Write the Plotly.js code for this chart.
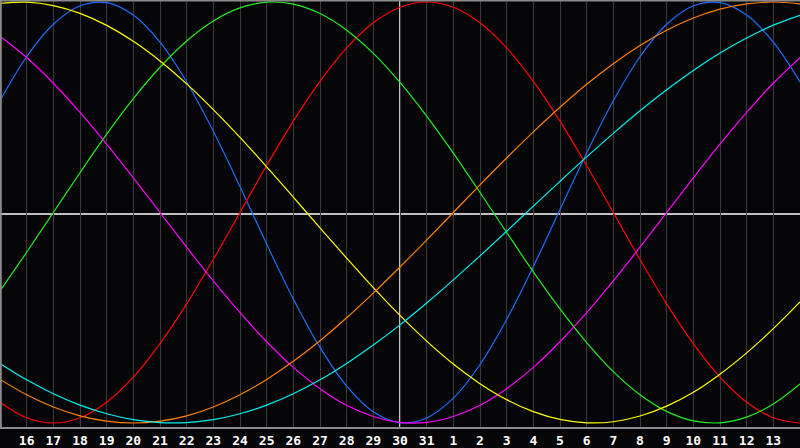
<!DOCTYPE html>
<html>
<head>
<meta charset="utf-8">
<script src="https://cdn.plot.ly/plotly-3.0.1.min.js"></script>
<style>
html,body{margin:0;padding:0;background:#060608;}
#chart{width:800px;height:448px;}
</style>
</head>
<body>
<div id="chart"></div>
<script>
// Day labels along the x axis (15th of one month to 14th of the next)
const days = ['15','16','17','18','19','20','21','22','23','24','25','26','27','28','29','30','31',
              '1','2','3','4','5','6','7','8','9','10','11','12','13','14'];

// Cycle values, one per day (-1 .. 1)
const physical23 = [0.531,0.740,0.894,0.982,0.997,0.938,0.809,0.620,0.386,0.123,-0.150,-0.411,-0.641,-0.825,-0.947,-0.999,
                    -0.976,-0.882,-0.722,-0.508,-0.257,0.014,0.283,0.531,0.740,0.894,0.982,0.997,0.938,0.809,0.620];
const emotional28 = [-0.901,-0.975,-1,-0.975,-0.901,-0.782,-0.623,-0.434,-0.223,0,0.223,0.434,0.623,0.782,0.901,0.975,
                     1,0.975,0.901,0.782,0.623,0.434,0.223,0,-0.223,-0.434,-0.623,-0.782,-0.901,-0.975,-1];
const intellectual33 = [-0.372,-0.189,0,0.189,0.372,0.541,0.690,0.815,0.910,0.972,0.999,0.990,0.945,0.866,0.756,0.618,
                        0.458,0.282,0.095,-0.095,-0.282,-0.458,-0.618,-0.756,-0.866,-0.945,-0.990,-0.999,-0.972,-0.910,-0.815];
const intuition38 = [0.837,0.736,0.614,0.476,0.325,0.165,0,-0.165,-0.325,-0.476,-0.614,-0.736,-0.837,-0.916,-0.969,-0.997,
                     -0.997,-0.969,-0.916,-0.837,-0.736,-0.614,-0.476,-0.325,-0.165,0,0.165,0.325,0.476,0.614,0.736];
const aesthetic43 = [0.994,0.999,0.983,0.946,0.889,0.813,0.720,0.611,0.489,0.357,0.217,0.073,-0.073,-0.217,-0.357,-0.489,
                     -0.611,-0.720,-0.813,-0.889,-0.946,-0.983,-0.999,-0.994,-0.967,-0.920,-0.854,-0.768,-0.667,-0.552,-0.425];
const awareness48 = [-0.793,-0.866,-0.924,-0.966,-0.991,-1,-0.991,-0.966,-0.924,-0.866,-0.793,-0.707,-0.609,-0.5,-0.383,-0.259,
                     -0.131,0,0.131,0.259,0.383,0.5,0.609,0.707,0.793,0.866,0.924,0.966,0.991,1,0.991];
const spiritual53 = [-0.717,-0.795,-0.861,-0.915,-0.956,-0.984,-0.998,-0.998,-0.984,-0.956,-0.915,-0.861,-0.795,-0.717,-0.630,-0.534,
                     -0.430,-0.320,-0.206,-0.089,0.030,0.148,0.264,0.376,0.483,0.583,0.675,0.758,0.829,0.890,0.937];

const todayLabel = '30';

const xIdx = days.map((d, i) => i);
const tickIdx = xIdx.slice(1, days.length - 1);
const tickTxt = days.slice(1, days.length - 1);
const todayIdx = days.indexOf(todayLabel);

const series = [
  {name: 'Physical', y: physical23, color: '#1e6eff'},
  {name: 'Emotional', y: emotional28, color: '#ff0000'},
  {name: 'Intellectual', y: intellectual33, color: '#22ee22'},
  {name: 'Intuition', y: intuition38, color: '#ff00ff'},
  {name: 'Aesthetic', y: aesthetic43, color: '#ffff00'},
  {name: 'Awareness', y: awareness48, color: '#ff8000'},
  {name: 'Spiritual', y: spiritual53, color: '#00f0f0'}
];

const traces = series.map(s => ({
  type: 'scatter', mode: 'lines', name: s.name,
  x: xIdx, y: s.y,
  line: {color: s.color, width: 1.2, shape: 'spline', smoothing: 1},
  hoverinfo: 'skip'
}));

const layout = {
  width: 800, height: 448,
  margin: {l: 0, r: 0, t: 0, b: 20, pad: 0},
  paper_bgcolor: '#060608',
  plot_bgcolor: '#060608',
  showlegend: false,
  xaxis: {
    range: [0, days.length - 1],
    tickvals: tickIdx, ticktext: tickTxt,
    showgrid: true, gridcolor: '#3a3a3a', gridwidth: 1,
    zeroline: false, showline: false, ticks: '',
    ticklabelstandoff: 3,
    tickfont: {family: 'DejaVu Sans Mono', size: 13, color: '#ffffff', weight: 'bold'},
    fixedrange: true
  },
  yaxis: {
    range: [-1.0238, 1.0095],
    showgrid: false, zeroline: false, showticklabels: false, ticks: '',
    fixedrange: true
  },
  shapes: [
    {type: 'line', xref: 'x', yref: 'paper', x0: todayIdx, x1: todayIdx, y0: 0, y1: 1,
     line: {color: '#ffffff', width: 1.5}, layer: 'below'},
    {type: 'line', xref: 'paper', yref: 'paper', x0: 0, x1: 1, y0: 0.5, y1: 0.5,
     line: {color: '#ffffff', width: 1.5}, layer: 'below'},
    {type: 'line', xref: 'paper', yref: 'paper', x0: 0, x1: 1, y0: 0, y1: 0,
     line: {color: '#8a8a8a', width: 2}},
    {type: 'line', xref: 'paper', yref: 'paper', x0: 0.001, x1: 0.001, y0: 0, y1: 1,
     line: {color: '#8a8a8a', width: 2}},
    {type: 'line', xref: 'paper', yref: 'paper', x0: 0, x1: 1, y0: 0.999, y1: 0.999,
     line: {color: '#8a8a8a', width: 2}}
  ]
};

Plotly.newPlot('chart', traces, layout, {displayModeBar: false, staticPlot: true});
</script>
</body>
</html>
